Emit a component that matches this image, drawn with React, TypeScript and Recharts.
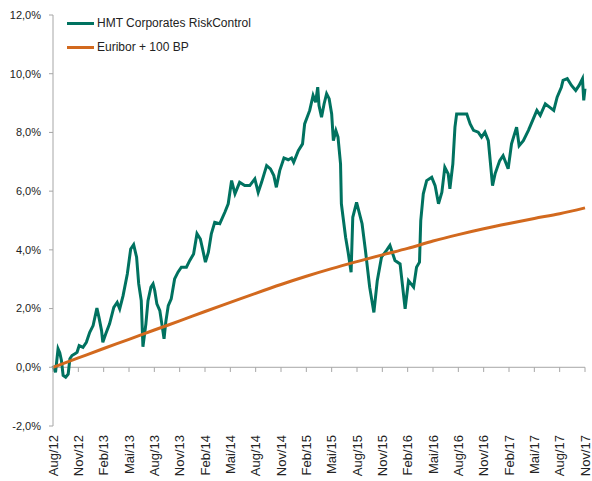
import { LineChart, Line, XAxis, YAxis, ReferenceLine, Legend } from "recharts"

// months since Aug/12, one tick per quarter
const tickMonths = [0, 3, 6, 9, 12, 15, 18, 21, 24, 27, 30, 33, 36, 39, 42, 45, 48, 51, 54, 57, 60, 63]
const tickLabels = [
  "Aug/12", "Nov/12", "Feb/13", "Mai/13", "Aug/13", "Nov/13", "Feb/14", "Mai/14", "Aug/14", "Nov/14", "Feb/15",
  "Mai/15", "Aug/15", "Nov/15", "Feb/16", "Mai/16", "Aug/16", "Nov/16", "Feb/17", "Mai/17", "Aug/17", "Nov/17",
]
const yTicks = [-2, 0, 2, 4, 6, 8, 10, 12]
const seriesNames = ["HMT Corporates RiskControl", "Euribor + 100 BP"]

const hmtMonths = [
  0, 0.3, 0.6, 0.8, 1, 1.2, 1.5, 1.8, 2, 2.25, 2.6, 2.85, 3.1, 3.55, 3.95, 4.35, 4.75, 5.2, 5.45, 5.75, 5.9,
  6.25, 6.7, 7.2, 7.6, 7.9, 8.3, 8.8, 9.2, 9.55, 9.9, 10.15, 10.45, 10.65, 11, 11.25, 11.6, 11.85, 12.05, 12.3,
  12.65, 12.95, 13.15, 13.35, 13.65, 14, 14.4, 14.8, 15.2, 15.8, 16.2, 16.65, 17.05, 17.45, 17.75, 18.05, 18.4,
  18.75, 19.15, 19.75, 20.35, 20.75, 21.15, 21.55, 22.1, 22.7, 23.3, 23.9, 24.3, 24.7, 25.3, 25.75, 26.15, 26.45,
  26.85, 27.35, 27.85, 28.25, 28.5, 29.05, 29.55, 29.8, 30.4, 30.8, 31.1, 31.35, 31.5, 31.8, 32.1, 32.4, 32.7,
  33, 33.2, 33.5, 33.75, 34.05, 34.15, 34.35, 34.65, 34.95, 35.3, 35.5, 35.95, 36.6, 37, 37.5, 38, 38.4, 38.9,
  39.5, 39.9, 40.5, 41.1, 41.7, 42.1, 42.7, 43.05, 43.4, 43.55, 43.85, 44.25, 44.85, 45.25, 45.65, 46.05, 46.4,
  46.8, 47, 47.35, 47.6, 47.8, 48.4, 49, 49.4, 49.8, 50.35, 50.75, 51.15, 51.55, 51.85, 52.05, 52.35, 52.9, 53.3,
  53.9, 54.3, 54.9, 55.2, 55.7, 56.3, 56.8, 57.3, 57.7, 58.3, 58.8, 59.3, 59.7, 60.2, 60.4, 60.9, 61.4, 61.9,
  62.3, 62.7, 62.85, 63,
]
const hmtValues = [
  0.05, -0.17, 0.63, 0.5, 0.23, -0.28, -0.34, -0.23, 0.29, 0.4, 0.46, 0.51, 0.74, 0.68, 0.85, 1.19, 1.42, 2.02,
  1.69, 1.25, 0.85, 1.14, 1.48, 2.04, 2.21, 1.99, 2.44, 3.18, 4.03, 4.18, 3.75, 2.84, 2.27, 0.7, 1.48, 2.27, 2.73,
  2.84, 2.61, 2.16, 1.93, 1.36, 0.97, 1.53, 2.1, 2.33, 3.01, 3.24, 3.41, 3.41, 3.64, 3.86, 4.55, 4.37, 3.98, 3.58,
  3.92, 4.55, 4.94, 4.89, 5.28, 5.57, 6.36, 5.91, 6.3, 6.19, 6.19, 6.42, 5.96, 6.3, 6.87, 6.76, 6.53, 6.13, 6.7,
  7.13, 7.07, 7.13, 6.98, 7.38, 7.61, 8.29, 8.75, 9.26, 9.03, 9.54, 8.92, 8.52, 8.97, 9.32, 9.15, 8.63, 7.72, 8.06,
  7.84, 6.93, 5.57, 5.11, 4.43, 3.92, 3.24, 5.11, 5.62, 4.89, 3.98, 2.73, 1.87, 2.95, 3.75, 3.98, 4.15, 3.64, 3.52,
  1.99, 2.95, 2.73, 3.41, 3.58, 5.0, 5.91, 6.36, 6.47, 6.19, 5.57, 5.96, 6.81, 6.59, 6.08, 6.93, 8.18, 8.63, 8.63,
  8.63, 8.29, 8.07, 8.01, 7.84, 8.01, 7.72, 6.81, 6.19, 6.59, 7.04, 7.21, 6.76, 7.61, 8.18, 7.55, 7.72, 8.07, 8.41,
  8.75, 8.58, 8.97, 8.86, 8.75, 9.2, 9.54, 9.77, 9.83, 9.6, 9.43, 9.6, 9.83, 9.09, 9.49,
]

const euriborMonths = tickMonths
const euriborValues = [
  0, 0.32, 0.64, 0.95, 1.27, 1.58, 1.9, 2.21, 2.52, 2.82, 3.1, 3.36, 3.6, 3.83, 4.05, 4.3, 4.52, 4.72, 4.9, 5.07,
  5.23, 5.43,
]

const GREEN = "#007260"
const ORANGE = "#D2691E"
const AXIS = "#A6A6A6"
const FONT = "Liberation Sans, Arial, sans-serif"

const hmtData = hmtMonths.map((m, i) => ({ m, v: hmtValues[i] }))
const euriborData = euriborMonths.map((m, i) => ({ m, v: euriborValues[i] }))

const pct = (v: number) => `${v.toFixed(1).replace(".", ",")}%`

function MonthTick(props: any) {
  const { x, y, payload } = props
  const i = tickMonths.indexOf(payload.value)
  return (
    <g transform={`translate(${x},${y})`}>
      <text transform="rotate(-90)" textAnchor="end" dominantBaseline="central" fontSize={13} fill="#222" fontFamily={FONT}>
        {tickLabels[i]}
      </text>
    </g>
  )
}

function ChartLegend({ payload }: any) {
  const items = [...(payload || [])].sort(
    (a: any, b: any) => seriesNames.indexOf(a.value) - seriesNames.indexOf(b.value)
  )
  return (
    <div style={{ fontFamily: FONT, fontSize: 12, color: "#222" }}>
      {items.map((p: any) => (
        <div key={p.value} style={{ display: "flex", alignItems: "center", height: 16, marginBottom: 8 }}>
          <span style={{ display: "inline-block", width: 27, height: 3, background: p.color, marginRight: 3 }} />
          <span>{p.value}</span>
        </div>
      ))}
    </div>
  )
}

export default function App() {
  return (
    <div style={{ width: 592, height: 481, background: "#fff" }}>
      <style>{"body{margin:0}"}</style>
      <LineChart width={592} height={481} margin={{ top: 15, right: 7, left: 0, bottom: 0 }}>
        <XAxis
          type="number"
          dataKey="m"
          domain={[0, 63]}
          ticks={tickMonths}
          interval={0}
          axisLine={false}
          tickLine={false}
          tickSize={0}
          tickMargin={9}
          height={55}
          tick={<MonthTick />}
        />
        <YAxis
          type="number"
          domain={[-2, 12]}
          ticks={yTicks}
          interval={0}
          width={53}
          tickFormatter={pct}
          axisLine={{ stroke: AXIS }}
          tickLine={{ stroke: AXIS }}
          tickSize={4}
          tickMargin={8}
          tick={{ fontSize: 11, fill: "#222", fontFamily: FONT }}
        />
        <ReferenceLine y={0} stroke={AXIS} />
        {tickMonths.map((t) => (
          <ReferenceLine
            key={t}
            segment={[
              { x: t, y: 0 },
              { x: t, y: -0.16 },
            ]}
            stroke={AXIS}
          />
        ))}
        <Legend
          layout="vertical"
          align="center"
          verticalAlign="middle"
          wrapperStyle={{ left: 67, top: 15, width: 300 }}
          content={<ChartLegend />}
        />
        <Line
          data={hmtData}
          dataKey="v"
          name={seriesNames[0]}
          type="linear"
          stroke={GREEN}
          strokeWidth={3}
          dot={false}
          isAnimationActive={false}
        />
        <Line
          data={euriborData}
          dataKey="v"
          name={seriesNames[1]}
          type="monotone"
          stroke={ORANGE}
          strokeWidth={3}
          dot={false}
          isAnimationActive={false}
        />
      </LineChart>
    </div>
  )
}
